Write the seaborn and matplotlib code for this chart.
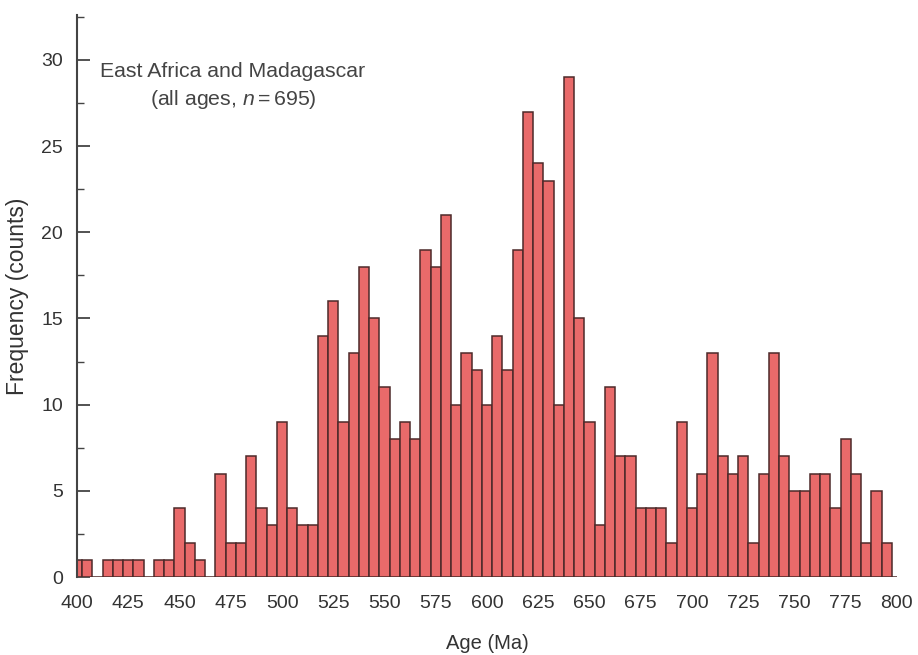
import numpy as np
import pandas as pd
import matplotlib
matplotlib.use('Agg')
import matplotlib.pyplot as plt
import seaborn as sns
from matplotlib.ticker import MultipleLocator

# bin centres (Ma) and counts
ages = np.arange(400, 805, 5)
counts = [1, 1, 0, 1, 1, 1, 1, 0, 1, 1,
          4, 2, 1, 0, 6, 2, 2, 7, 4, 3,
          9, 4, 3, 3, 14, 16, 9, 13, 18, 15,
          11, 8, 9, 8, 19, 18, 21, 10, 13, 12,
          10, 14, 12, 19, 27, 24, 23, 10, 29, 15,
          9, 3, 11, 7, 7, 4, 4, 4, 2, 9,
          4, 6, 13, 7, 6, 7, 2, 6, 13, 7,
          5, 5, 6, 6, 4, 8, 6, 2, 5, 2, 0]
xticks = list(range(400, 801, 25))
yticks = list(range(0, 31, 5))

df = pd.DataFrame({'age': ages, 'count': counts})

sns.set_style('white')
plt.rcParams['font.family'] = ['Liberation Sans', 'DejaVu Sans']
plt.rcParams['mathtext.fontset'] = 'custom'
plt.rcParams['mathtext.rm'] = 'Liberation Sans'
plt.rcParams['mathtext.it'] = 'Liberation Sans:italic'

fig = plt.figure(figsize=(9.18, 6.55), dpi=100)
ax = fig.add_axes([0.084, 0.119, 0.893, 0.858])

# bins centred on every 5 Ma
sns.histplot(data=df, x='age', weights='count', binwidth=5,
             binrange=(397.5, 802.5), ax=ax,
             color='#E96A6A', edgecolor='#4d2a2a', linewidth=1.1, alpha=1)

ax.set_xlim(400, 800)
ax.set_ylim(0, 32.6)
ax.set_xticks(xticks)
ax.set_yticks(yticks)
ax.yaxis.set_minor_locator(MultipleLocator(2.5))

for s in ['top', 'right', 'bottom']:
    ax.spines[s].set_visible(False)
ax.spines['left'].set_color('#444444')
ax.spines['left'].set_linewidth(1.5)

ax.tick_params(axis='y', which='both', left=True, direction='in',
               color='#444444')
ax.tick_params(axis='y', which='major', length=9, width=1.3,
               labelsize=14, labelcolor='#333333', pad=10)
ax.tick_params(axis='y', which='minor', length=5, width=1.0)
ax.tick_params(axis='x', length=0, labelsize=14, labelcolor='#333333', pad=13)

ax.set_xlabel('Age (Ma)', fontsize=14.5, color='#333333', labelpad=16)
ax.set_ylabel('Frequency (counts)', fontsize=16.5, color='#333333', labelpad=9)

ax.text(0.19, 0.9, 'East Africa and Madagascar', transform=ax.transAxes,
        ha='center', va='center', fontsize=15.3, color='#444444')
ax.text(0.19, 0.85, r'(all ages, $n$$=$695)', transform=ax.transAxes,
        ha='center', va='center', fontsize=15.3, color='#444444')

fig.savefig('out.png', dpi=100)
